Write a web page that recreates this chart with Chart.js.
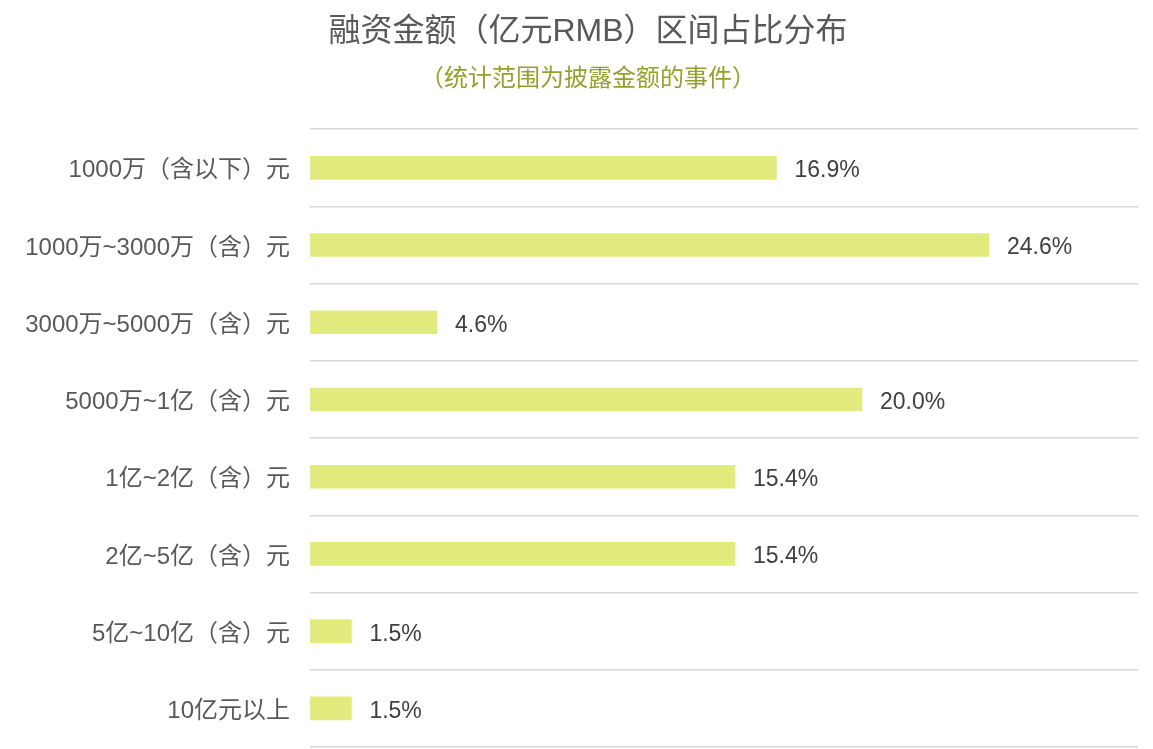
<!DOCTYPE html>
<html>
<head>
<meta charset="utf-8">
<script src="https://cdn.jsdelivr.net/npm/chart.js@4/dist/chart.umd.min.js"></script>
<style>
html,body{margin:0;padding:0;background:#fff;overflow:hidden;}
canvas{display:block;}
</style>
</head>
<body>
<canvas id="c" width="1153" height="749" style="width:1153px;height:749px"></canvas>
<script>
const titleText = '融资金额（亿元RMB）区间占比分布';
const subtitleText = '（统计范围为披露金额的事件）';
const categories = ['1000万（含以下）元','1000万~3000万（含）元','3000万~5000万（含）元','5000万~1亿（含）元','1亿~2亿（含）元','2亿~5亿（含）元','5亿~10亿（含）元','10亿元以上'];
const shares = [16.9, 24.6, 4.6, 20.0, 15.4, 15.4, 1.5, 1.5];
const shareLabels = ['16.9%','24.6%','4.6%','20.0%','15.4%','15.4%','1.5%','1.5%'];

const FONT = '"Liberation Sans", "Noto Sans CJK SC", sans-serif';

const valueLabels = {
  id: 'valueLabels',
  afterDatasetsDraw(chart) {
    const ctx = chart.ctx;
    const meta = chart.getDatasetMeta(0);
    ctx.save();
    ctx.font = '23px ' + FONT;
    ctx.fillStyle = '#404040';
    ctx.textAlign = 'left';
    ctx.textBaseline = 'middle';
    meta.data.forEach((bar, i) => {
      ctx.fillText(shareLabels[i], bar.x + 18, bar.y + 3);
    });
    ctx.restore();
  }
};

// shift the title and subtitle boxes horizontally so they are centred like the original
const titleShift = {
  id: 'titleShift',
  afterLayout(chart) {
    chart.boxes.forEach(b => {
      if (b && b.options && (b.options.text === titleText || b.options.text === subtitleText)) {
        b.left += 9; b.right += 9;
      }
    });
  }
};

new Chart(document.getElementById('c'), {
  type: 'bar',
  data: {
    labels: categories,
    datasets: [{
      data: shares,
      backgroundColor: '#e2eb7e',
      borderWidth: 0,
      barThickness: 23
    }]
  },
  options: {
    indexAxis: 'y',
    responsive: false,
    maintainAspectRatio: false,
    animation: false,
    devicePixelRatio: 1,
    layout: { padding: { left: 20, right: 15, bottom: 2, top: 0 } },
    plugins: {
      legend: { display: false },
      tooltip: { enabled: false },
      title: {
        display: true,
        text: titleText,
        color: '#595959',
        font: { family: FONT, size: 32, weight: 'normal', lineHeight: 1.2 },
        padding: { top: 13, bottom: 14 }
      },
      subtitle: {
        display: true,
        text: subtitleText,
        color: '#95a12c',
        font: { family: FONT, size: 24, weight: 'normal', lineHeight: 1.2 },
        padding: { top: 0, bottom: 35 }
      }
    },
    scales: {
      x: {
        display: false,
        min: 0,
        max: 30
      },
      y: {
        afterFit(scale) { scale.width = 290; },
        grid: {
          offset: true,
          color: '#d9d9d9',
          lineWidth: 1.5,
          drawTicks: true,
          tickLength: 20,
          tickColor: 'rgba(0,0,0,0)'
        },
        border: { display: false },
        ticks: {
          color: '#595959',
          padding: 0,
          labelOffset: 3,
          font: { family: FONT, size: 24, lineHeight: 0.1 }
        }
      }
    }
  },
  plugins: [valueLabels, titleShift]
});
</script>
</body>
</html>
